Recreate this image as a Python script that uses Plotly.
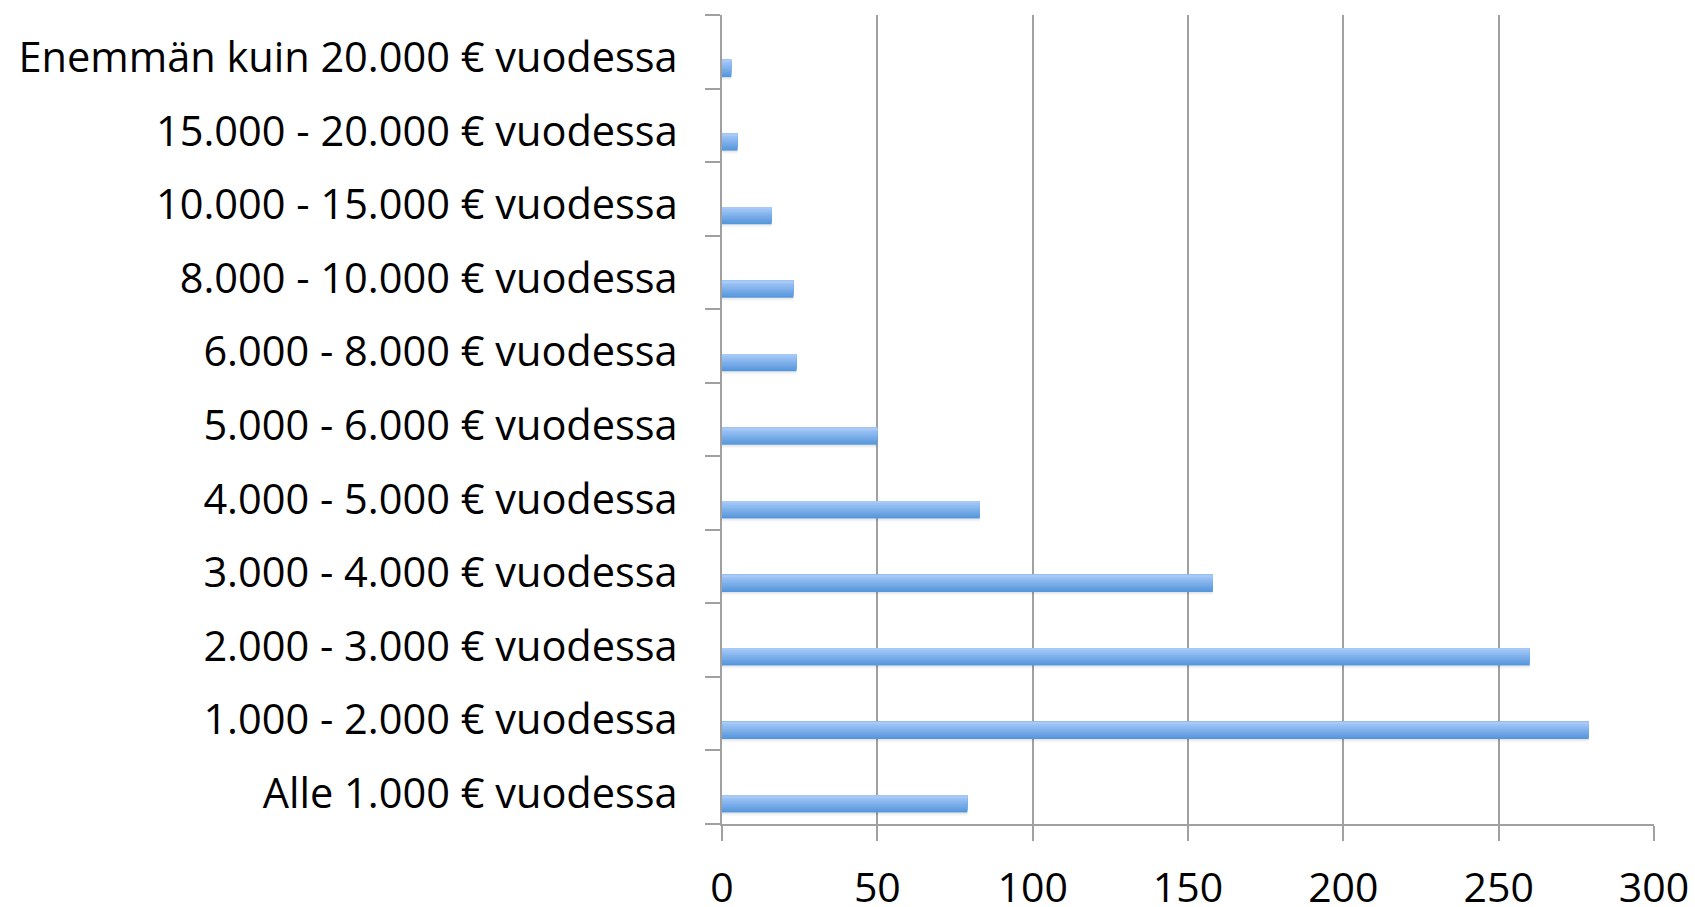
import plotly.graph_objects as go

categories = [
    'Alle 1.000 € vuodessa',
    '1.000 - 2.000 € vuodessa',
    '2.000 - 3.000 € vuodessa',
    '3.000 - 4.000 € vuodessa',
    '4.000 - 5.000 € vuodessa',
    '5.000 - 6.000 € vuodessa',
    '6.000 - 8.000 € vuodessa',
    '8.000 - 10.000 € vuodessa',
    '10.000 - 15.000 € vuodessa',
    '15.000 - 20.000 € vuodessa',
    'Enemmän kuin 20.000 € vuodessa',
]
values = [79, 279, 260, 158, 83, 50, 24, 23, 16, 5, 3]
x_ticks = [0, 50, 100, 150, 200, 250, 300]

font_family = 'Open Sans, Liberation Sans, sans-serif'

# bar sits in the lower part of each category slot
bar_width = 0.235
bar_offset = -0.345
n_strips = 10
top_rgb = (166, 201, 248)
bot_rgb = (86, 151, 220)

fig = go.Figure()

# soft shadow under the bars
for k, alpha in enumerate([0.10, 0.06, 0.03]):
    fig.add_trace(go.Bar(
        x = values,
        y = categories,
        orientation = 'h',
        width = 0.014,
        offset = bar_offset - 0.014 * (k + 1),
        marker = dict(color = f'rgba(0,0,0,{alpha})', line = dict(width = 0)),
        hoverinfo = 'skip',
        showlegend = False))

# vertical gradient: each layer runs up to the bar top, lighter layers drawn last
strip = bar_width / n_strips
for i in range(n_strips):
    t = i / (n_strips - 1)
    r, g, b = [int(round(bot_rgb[j] + (top_rgb[j] - bot_rgb[j]) * t)) for j in range(3)]
    fig.add_trace(go.Bar(
        x = values,
        y = categories,
        orientation = 'h',
        width = bar_width - i * strip,
        offset = bar_offset + i * strip,
        marker = dict(color = f'rgb({r},{g},{b})', line = dict(width = 0)),
        hovertemplate = '%{y}: %{x}<extra></extra>',
        showlegend = False))

fig.update_layout(
    width = 1695,
    height = 907,
    margin = dict(l = 722, r = 41, t = 15, b = 83),
    plot_bgcolor = 'white',
    paper_bgcolor = 'white',
    barmode = 'overlay',
    showlegend = False,
    font = dict(family = font_family, size = 41, color = 'black'),
    xaxis = dict(
        range = [0, 300],
        tickvals = x_ticks,
        showgrid = True,
        gridcolor = '#a0a0a0',
        gridwidth = 1.5,
        showline = True,
        linecolor = '#a0a0a0',
        linewidth = 2,
        ticks = 'outside',
        ticklen = 15,
        tickwidth = 2,
        tickcolor = '#a0a0a0',
        ticklabelstandoff = 12,
        zeroline = False,
        automargin = False,
        tickfont = dict(family = font_family, size = 41, color = 'black'),
        fixedrange = True),
    yaxis = dict(
        type = 'category',
        categoryorder = 'array',
        categoryarray = categories,
        range = [-0.5, len(categories) - 0.5],
        showgrid = False,
        showline = True,
        linecolor = '#a0a0a0',
        linewidth = 2,
        ticks = 'outside',
        tickson = 'boundaries',
        ticklen = 15,
        tickwidth = 2,
        tickcolor = '#a0a0a0',
        ticklabelstandoff = 34,
        ticklabelshift = 6,
        automargin = False,
        tickfont = dict(family = font_family, size = 41.5, color = 'black'),
        fixedrange = True))

fig.write_html('out.html', config = dict(displayModeBar = False),
               post_script = "document.body.style.margin = '0';")
